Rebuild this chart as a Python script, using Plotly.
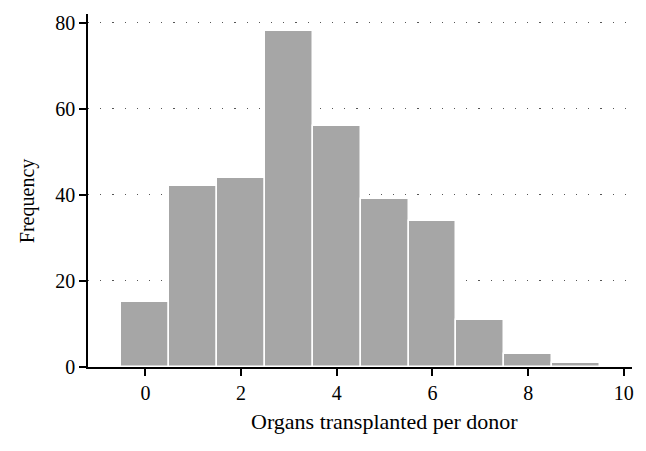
import plotly.graph_objects as go

organs = [0, 1, 2, 3, 4, 5, 6, 7, 8, 9]
frequency = [15, 42, 44, 78, 56, 39, 34, 11, 3, 1]
x_ticks = [0, 2, 4, 6, 8, 10]
y_ticks = [0, 20, 40, 60, 80]
x_title = "Organs transplanted per donor"
y_title = "Frequency"

FONT = "Liberation Serif"

fig = go.Figure()
fig.add_trace(go.Bar(
    x=organs, y=frequency, width=1,
    marker=dict(color="#a6a6a6", line=dict(color="white", width=1.5)),
))

# page body has an 8px margin, so the figure is offset by (8, 8)
fig.update_layout(
    width=638, height=443,
    margin=dict(l=80, r=14, t=6, b=84),
    paper_bgcolor="white", plot_bgcolor="white",
    showlegend=False, bargap=0,
    font=dict(family=FONT, size=20, color="black"),
)
fig.update_xaxes(
    range=[-1.2, 10.17], tickvals=x_ticks, ticktext=[str(t) for t in x_ticks],
    showline=True, linecolor="black", linewidth=1.5,
    ticks="outside", ticklen=7, tickwidth=1.5, tickcolor="black",
    tickfont=dict(family=FONT, size=20),
    showgrid=False, zeroline=False, automargin=False,
)
fig.update_yaxes(
    range=[0, 82], tickvals=y_ticks, ticktext=[str(t) for t in y_ticks],
    showline=True, linecolor="black", linewidth=1.5,
    ticks="outside", ticklen=7, tickwidth=1.5, tickcolor="black",
    tickfont=dict(family=FONT, size=20),
    showgrid=True, gridcolor="#555555", gridwidth=1.2, griddash="1.2px,11px",
    zeroline=False, automargin=False,
)

fig.add_annotation(
    text=x_title, xref="x", x=5, yref="paper", y=-0.153,
    xanchor="center", yanchor="middle", showarrow=False,
    font=dict(family=FONT, size=22),
)
fig.add_annotation(
    text=y_title, xref="paper", x=-0.112, yref="paper", y=0.47,
    xanchor="center", yanchor="middle", textangle=-90, showarrow=False,
    font=dict(family=FONT, size=20),
)

fig.write_html("out.html")
